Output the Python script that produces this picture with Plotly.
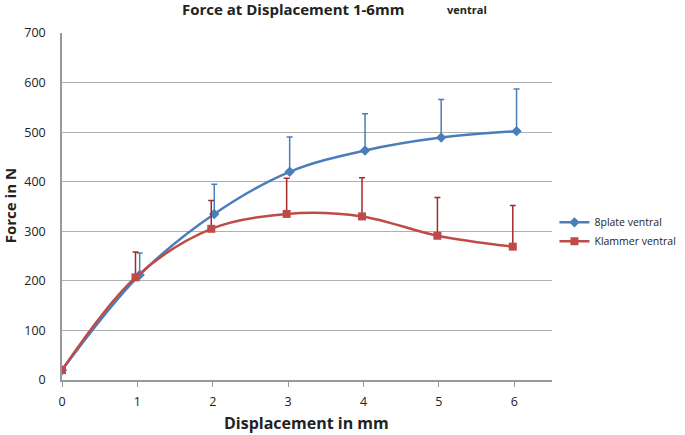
import plotly.graph_objects as go

x_plate = [0, 1.03, 2.02, 3.02, 4.02, 5.03, 6.03]
y_plate = [20, 212, 335, 420, 463, 489, 502]
err_plate = [0, 44, 60, 70, 74, 77, 85]

x_klammer = [0, 0.975, 1.98, 2.98, 3.98, 4.98, 5.98]
y_klammer = [20, 207, 305, 335, 330, 291, 269]
err_klammer = [0, 51, 57, 72, 78, 77, 83]

blue = "#4A7EBB"
red = "#BE4B48"

fig = go.Figure()
fig.add_trace(go.Scatter(
    x=x_plate, y=y_plate, name="8plate ventral", mode="lines+markers",
    line=dict(color=blue, width=2.5, shape="spline", smoothing=1.0),
    marker=dict(symbol="diamond", size=8, color=blue),
    error_y=dict(type="data", array=err_plate, symmetric=False, arrayminus=[0]*7,
                 color=blue, thickness=1.5, width=3),
))
fig.add_trace(go.Scatter(
    x=x_klammer, y=y_klammer, name="Klammer ventral", mode="lines+markers",
    line=dict(color=red, width=2.5, shape="spline", smoothing=1.0),
    marker=dict(symbol="square", size=8, color=red),
    error_y=dict(type="data", array=err_klammer, symmetric=False, arrayminus=[0]*7,
                 color="#A52A2A", thickness=1.5, width=3),
))

font_family = "Open Sans, Liberation Sans, sans-serif"
fig.update_layout(
    width=685, height=435,
    margin=dict(l=62, r=133, t=33, b=55, autoexpand=False),
    paper_bgcolor="white", plot_bgcolor="white",
    font=dict(family=font_family, color="#222222", size=12),
    xaxis=dict(range=[0, 6.5], tickvals=[0, 1, 2, 3, 4, 5, 6], showgrid=False,
               showline=True, linecolor="#999999", linewidth=1.5, automargin=False,
               ticks="outside", ticklen=5, tickcolor="#999999", zeroline=False,
               ticklabelstandoff=4,
               tickfont=dict(size=12.5, color="#222222")),
    yaxis=dict(range=[0, 700], dtick=100, showgrid=True, gridcolor="#B0B0B0", gridwidth=1,
               showline=True, linecolor="#999999", linewidth=1.5, automargin=False,
               ticks="", zeroline=False, ticklabelstandoff=12,
               tickfont=dict(size=12.5, color="#222222")),
    legend=dict(x=1.005, y=0.427, xanchor="left", yanchor="middle",
                font=dict(size=10.5, color="#222222"), bgcolor="rgba(0,0,0,0)",
                tracegroupgap=4, itemwidth=30),
    showlegend=True,
)
fig.add_annotation(text="<b>Force at Displacement 1-6mm</b>", xref="paper", yref="paper",
                   x=0.471, y=1.069, showarrow=False, xanchor="center", yanchor="middle",
                   font=dict(size=15, color="#222222"))
fig.add_annotation(text="<b>ventral</b>", xref="paper", yref="paper", x=0.827, y=1.069,
                   showarrow=False, xanchor="center", yanchor="middle",
                   font=dict(size=11, color="#222222"))
fig.add_annotation(text="<b>Displacement in mm</b>", xref="paper", yref="paper",
                   x=0.498, y=-0.124, showarrow=False, xanchor="center", yanchor="middle",
                   font=dict(size=16, color="#222222"))
fig.add_annotation(text="<b>Force in N</b>", xref="paper", yref="paper",
                   x=-0.106, y=0.501, showarrow=False, xanchor="center", yanchor="middle",
                   textangle=-90, font=dict(size=15, color="#222222"))

fig.write_html("out.html", config={"displayModeBar": False},
               post_script="document.body.style.margin='0';document.body.style.padding='0';")
